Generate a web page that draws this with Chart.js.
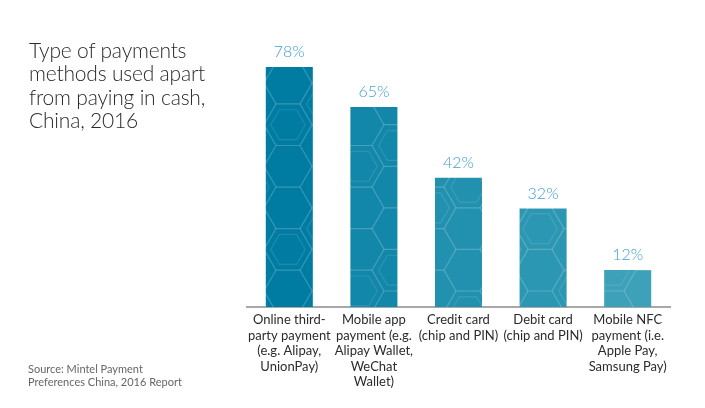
<!DOCTYPE html>
<html><head><meta charset="utf-8">
<script src="https://cdn.jsdelivr.net/npm/chart.js@4"></script>
<style>
html,body{margin:0;padding:0;background:#fff;width:705px;height:408px;overflow:hidden;font-family:Lato,sans-serif}
#wrap{position:absolute;left:0;top:0;width:705px;height:408px}
#title{position:absolute;left:29px;top:38px;font-size:21px;line-height:23.4px;letter-spacing:-0.2px;color:#2b2b2b;font-weight:300}
#source{position:absolute;left:28px;top:362px;font-size:11px;line-height:13px;color:#666}
</style></head>
<body>
<div id="wrap"><canvas id="c" width="705" height="408"></canvas></div>
<div id="title">Type of payments<br>methods used apart<br>from paying in cash,<br>China, 2016</div>
<div id="source">Source: Mintel Payment<br>Preferences China, 2016 Report</div>
<script>
const categories = [
  ["Online third-","party payment","(e.g. Alipay,","UnionPay)"],
  ["Mobile app","payment (e.g.","Alipay Wallet,","WeChat","Wallet)"],
  ["Credit card","(chip and PIN)"],
  ["Debit card","(chip and PIN)"],
  ["Mobile NFC","payment (i.e.","Apple Pay,","Samsung Pay)"]
];
const values = [78, 65, 42, 32, 12];
const barColors = ["#007ca3", "#1387aa", "#2291b0", "#2c97b3", "#3ca1b9"];

function hexPattern(color){
  const w = 705, h = 408;
  const pc = document.createElement('canvas');
  pc.width = w; pc.height = h;
  const g = pc.getContext('2d');
  g.fillStyle = color; g.fillRect(0,0,w,h);
  g.strokeStyle = 'rgba(255,255,255,0.11)';
  g.lineWidth = 1.2;
  const r = 24, vh = Math.sqrt(3)*r;
  function hex(cx,cy,rr){
    g.beginPath();
    for(let i=0;i<6;i++){
      const a = Math.PI/3*i;
      const x = cx + rr*Math.cos(a), y = cy + rr*Math.sin(a);
      if(i===0) g.moveTo(x,y); else g.lineTo(x,y);
    }
    g.closePath(); g.stroke();
  }
  let col = 0;
  for(let cx=0; cx<=w+r; cx+=1.5*r, col++){
    const off = (col%2) ? vh/2 : 0;
    let row = 0;
    for(let cy=-vh+off; cy<=h+vh; cy+=vh, row++){
      hex(cx,cy,r);
      if((row+col)%3===0) hex(cx,cy,r*0.72);
    }
  }
  return g.createPattern(pc,'no-repeat');
}

const valueLabels = {
  id:'valueLabels',
  afterDatasetsDraw(chart){
    const ctx = chart.ctx;
    const meta = chart.getDatasetMeta(0);
    ctx.save();
    ctx.font = '300 16px Lato';
    ctx.fillStyle = '#3f9fcf';
    ctx.textAlign = 'center';
    ctx.textBaseline = 'alphabetic';
    meta.data.forEach((bar,i)=>{
      ctx.fillText(values[i] + '%', bar.x, bar.y - 10);
    });
    ctx.restore();
  }
};

new Chart(document.getElementById('c'), {
  type:'bar',
  data:{
    labels: categories,
    datasets:[{
      data: values,
      backgroundColor: barColors.map(hexPattern),
      borderWidth:0,
      barPercentage:0.556,
      categoryPercentage:1
    }]
  },
  options:{
    responsive:false,
    animation:false,
    devicePixelRatio:1,
    layout:{padding:{left:247, right:35, top:30, bottom:13}},
    plugins:{legend:{display:false}, tooltip:{enabled:false}},
    scales:{
      x:{
        grid:{display:false, drawTicks:false},
        border:{display:true, color:'#a8a8a8', width:2},
        ticks:{color:'#2b2b2b', font:{family:'Lato', size:13}, padding:5, maxRotation:0, autoSkip:false}
      },
      y:{
        display:false,
        min:0, max:90
      }
    }
  },
  plugins:[valueLabels]
});
</script>
</body></html>
